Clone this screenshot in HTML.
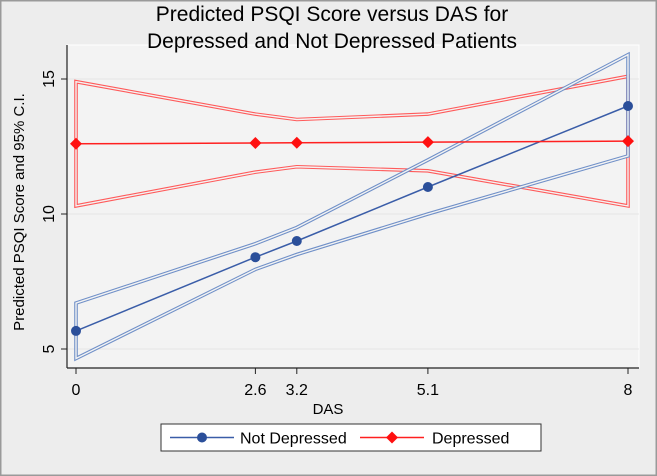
<!DOCTYPE html>
<html><head><meta charset="utf-8"><style>
body{margin:0;background:#ececec;}
svg{display:block;font-family:"Liberation Sans",sans-serif;}
</style></head><body>
<svg id="chart" width="657" height="476">
<rect x="0" y="0" width="657" height="476" fill="#ededed" stroke="#9a9a9a" stroke-width="3"/>
<rect x="67" y="45" width="572" height="323" fill="#f3f3f3" stroke="#ffffff" stroke-width="1"/>
<text x="332" y="21" font-size="21" text-anchor="middle">Predicted PSQI Score versus DAS for</text>
<text x="332" y="48" font-size="21" text-anchor="middle">Depressed and Not Depressed Patients</text>
<g id="grid"></g>
<g id="series"></g>
<line x1="67" y1="45" x2="67" y2="368" stroke="#222" stroke-width="1.2"/>
<line x1="67" y1="368" x2="639" y2="368" stroke="#222" stroke-width="1.2"/>
<g id="ticks" font-size="16"></g>
<text x="328" y="414" font-size="15" text-anchor="middle">DAS</text>
<text transform="translate(24,212) rotate(-90)" font-size="15" text-anchor="middle">Predicted PSQI Score and 95% C.I.</text>
<g>
<rect x="161" y="424" width="380" height="27" fill="#fff" stroke="#333" stroke-width="1"/>
<g>
<line x1="170" y1="437.5" x2="234" y2="437.5" stroke="#3a5da8" stroke-width="1.5"/>
<circle cx="202" cy="437.5" r="5" fill="#2b4f9a"/>
<text x="240" y="443.5" font-size="16">Not Depressed</text></g>
<g>
<line x1="360" y1="437.5" x2="424" y2="437.5" stroke="#ff2020" stroke-width="1.5"/>
<path d="M392 431.5 L398 437.5 L392 443.5 L386 437.5Z" fill="#ff1010"/>
<text x="432" y="443.5" font-size="16">Depressed</text></g>
</g>
</svg>
<script>
const xVals=[0,2.6,3.2,5.1,8];
const ndMean=[5.67,8.4,9.0,11.0,14.0];
const ndLower=[4.65,7.95,8.5,10.0,12.15];
const ndUpper=[6.7,8.9,9.5,12.0,15.9];
const dMean=[12.6,12.63,12.64,12.66,12.7];
const dLower=[10.3,11.55,11.75,11.6,10.3];
const dUpper=[14.9,13.7,13.5,13.7,15.1];
const yTicks=[5,10,15];
const xTicks=[0,2.6,3.2,5.1,8];
const xTickLabels=["0","2.6","3.2","5.1","8"];
const NS="http://www.w3.org/2000/svg";
const X=v=>76+v*69;
const Y=v=>349-(v-5)*27;
function el(t,a,p){const e=document.createElementNS(NS,t);for(const k in a)e.setAttribute(k,a[k]);p.appendChild(e);return e;}
const grid=document.getElementById('grid'),ser=document.getElementById('series'),tk=document.getElementById('ticks');
yTicks.forEach(v=>{
 const g=el('line',{x1:67,x2:639,y1:Y(v),y2:Y(v),stroke:'#e6e6e6'},grid);
 
 
 const t=el('line',{x1:61,x2:67,y1:Y(v),y2:Y(v),stroke:'#222'},tk);
 
 
 const l=el('text',{transform:`translate(54,${Y(v)}) rotate(-90)`,'text-anchor':'middle'},tk);
 l.textContent=v;
 
 
});
xTicks.forEach((v,i)=>{
 const t=el('line',{x1:X(v),x2:X(v),y1:368,y2:374,stroke:'#222'},tk);
 
 
 const l=el('text',{x:X(v),y:395,'text-anchor':'middle'},tk);
 l.textContent=xTickLabels[i];
 
 
});
function ci(lo,hi,col,name){
 const pts=xVals.map((x,i)=>X(x)+','+Y(hi[i])).concat(xVals.slice().reverse().map((x,j)=>{const i=xVals.length-1-j;return X(x)+','+Y(lo[i]);}));
 const a=el('polygon',{points:pts.join(' '),fill:'none',stroke:col,'stroke-width':3.6,'stroke-linejoin':'miter'},ser);
 
 
 const b=el('polygon',{points:pts.join(' '),fill:'none',stroke:'#f3f3f3','stroke-width':1.4},ser);
 
 
}
ci(dLower,dUpper,'#ff5a5a','depressed-ci');
ci(ndLower,ndUpper,'#7090c8','not-depressed-ci');
function line(m,col,name){
 const p=el('polyline',{points:xVals.map((x,i)=>X(x)+','+Y(m[i])).join(' '),fill:'none',stroke:col,'stroke-width':1.5},ser);
 
 
}
line(ndMean,'#3a5da8','not-depressed-line');
line(dMean,'#ff2020','depressed-line');
xVals.forEach((x,i)=>{
 const c=el('circle',{cx:X(x),cy:Y(ndMean[i]),r:5,fill:'#2b4f9a'},ser);
 
 
 const px=X(x),py=Y(dMean[i]);
 const d=el('path',{d:`M${px} ${py-6}L${px+6} ${py}L${px} ${py+6}L${px-6} ${py}Z`,fill:'#ff1010'},ser);
 
 
});
</script>
</body></html>
